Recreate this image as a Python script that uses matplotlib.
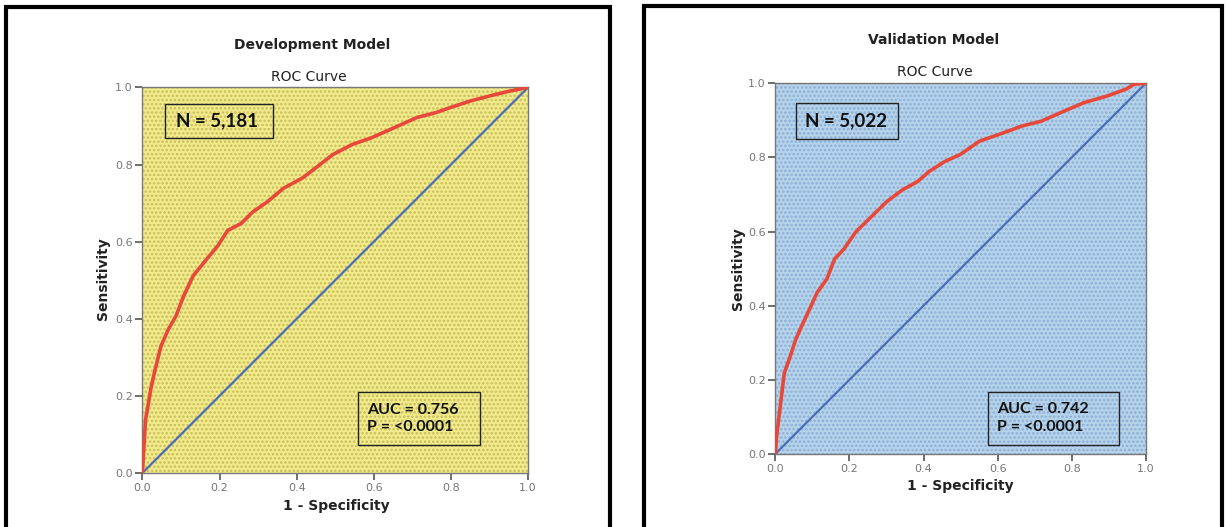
import matplotlib
matplotlib.use("Agg")
import matplotlib.pyplot as plt
from matplotlib.patches import Rectangle

# ROC curve points (1 - specificity, sensitivity)
dev_fpr = [0.0, 0.008, 0.023, 0.033, 0.048, 0.067, 0.087, 0.107, 0.132, 0.167,
           0.196, 0.221, 0.256, 0.286, 0.325, 0.365, 0.415, 0.454, 0.494, 0.544,
           0.593, 0.663, 0.712, 0.762, 0.802, 0.851, 0.901, 0.950, 1.0]
dev_tpr = [0.0, 0.137, 0.224, 0.268, 0.329, 0.372, 0.407, 0.459, 0.512, 0.555,
           0.590, 0.629, 0.647, 0.677, 0.704, 0.738, 0.765, 0.795, 0.826, 0.852,
           0.869, 0.900, 0.922, 0.935, 0.949, 0.965, 0.978, 0.990, 1.0]

val_fpr = [0.0, 0.003, 0.014, 0.024, 0.040, 0.055, 0.071, 0.092, 0.113, 0.139,
           0.160, 0.186, 0.217, 0.259, 0.301, 0.342, 0.384, 0.415, 0.457, 0.499,
           0.551, 0.603, 0.666, 0.718, 0.770, 0.833, 0.896, 0.948, 0.969, 1.0]
val_tpr = [0.0, 0.045, 0.136, 0.218, 0.263, 0.309, 0.345, 0.390, 0.436, 0.472,
           0.526, 0.554, 0.599, 0.640, 0.681, 0.712, 0.735, 0.762, 0.789, 0.808,
           0.844, 0.862, 0.885, 0.898, 0.921, 0.948, 0.966, 0.985, 0.998, 1.0]

titles = ["Development Model", "Validation Model"]
n_labels = ["N = 5,181", "N = 5,022"]
auc_labels = ["AUC = 0.756\nP = <0.0001", "AUC = 0.742\nP = <0.0001"]
ticks = [0.0, 0.2, 0.4, 0.6, 0.8, 1.0]

W, H = 1226, 527
fig = plt.figure(figsize=(W / 100, H / 100), dpi=100)


def fx(px):
    return px / W


def fy(py):
    return 1 - py / H


# panel layout in pixels
panels = [
    dict(ax=(142.4, 87.4, 528.1, 473.0), frame=(6, 7, 610, 560),
         title=(312, 45), roc=(309, 77), ylab=(103, 279), xlab=(336, 506),
         face="#F2EB8C", dots="#C8BC5A",
         nbox=(0.058, 0.868, 0.338, 0.958), abox=(0.558, 0.072, 0.876, 0.211),
         pad=(0.029, 0.025), fpr=dev_fpr, tpr=dev_tpr),
    dict(ax=(775.4, 83.4, 1145.7, 453.8), frame=(644, 6, 1222, 560),
         title=(934, 40), roc=(935, 72), ylab=(738, 269), xlab=(960, 486),
         face="#B6D3EC", dots="#8BAED3",
         nbox=(0.055, 0.851, 0.332, 0.947), abox=(0.575, 0.025, 0.929, 0.168),
         pad=(0.025, 0.023), fpr=val_fpr, tpr=val_tpr),
]

plt.rcParams["hatch.linewidth"] = 1.2
box_font = ["Lato", "DejaVu Sans"]

for i, p in enumerate(panels):
    x0, y0, x1, y1 = p["ax"]
    ax = fig.add_axes([fx(x0), fy(y1), fx(x1 - x0), (y1 - y0) / H])
    ax.set_facecolor(p["face"])
    ax.add_patch(Rectangle((0, 0), 1, 1, facecolor="none", edgecolor=p["dots"],
                           hatch="....", linewidth=0, zorder=0))
    ax.plot([0, 1], [0, 1], color="#4B6CB7", lw=1.6, zorder=2)
    ax.plot(p["fpr"], p["tpr"], color="#E8483A", lw=2.6, zorder=3)
    ax.set_xlim(0, 1)
    ax.set_ylim(0, 1)
    ax.set_xticks(ticks)
    ax.set_yticks(ticks)
    ax.set_xticklabels([f"{t:.1f}" for t in ticks])
    ax.set_yticklabels([f"{t:.1f}" for t in ticks])
    ax.tick_params(length=5, width=1.2, color="#555555", labelcolor="#777777",
                   labelsize=8, pad=2)
    for s in ax.spines.values():
        s.set_color("#777777")
        s.set_linewidth(1.0)

    # annotation boxes
    bx0, by0, bx1, by1 = p["nbox"]
    ax.add_patch(Rectangle((bx0, by0), bx1 - bx0, by1 - by0, facecolor="none",
                           edgecolor="#222222", lw=1.0, zorder=4))
    ax.text(bx0 + p["pad"][0], (by0 + by1) / 2, n_labels[i], fontsize=13.5,
            family=box_font, fontweight="bold", va="center", ha="left",
            color="#111111", zorder=5)
    bx0, by0, bx1, by1 = p["abox"]
    ax.add_patch(Rectangle((bx0, by0), bx1 - bx0, by1 - by0, facecolor="none",
                           edgecolor="#222222", lw=1.0, zorder=4))
    ax.text(bx0 + p["pad"][1], (by0 + by1) / 2, auc_labels[i], fontsize=11.5,
            family=box_font, fontweight="bold", va="center", ha="left",
            color="#111111", linespacing=1.3, zorder=5)

    # titles and axis labels
    fig.text(fx(p["title"][0]), fy(p["title"][1]), titles[i], fontsize=10,
             fontweight="bold", ha="center", va="center", color="#222222")
    fig.text(fx(p["roc"][0]), fy(p["roc"][1]), "ROC Curve", fontsize=10,
             ha="center", va="center", color="#222222")
    fig.text(fx(p["ylab"][0]), fy(p["ylab"][1]), "Sensitivity", fontsize=10,
             fontweight="bold", rotation=90, ha="center", va="center",
             color="#222222")
    fig.text(fx(p["xlab"][0]), fy(p["xlab"][1]), "1 - Specificity", fontsize=10,
             fontweight="bold", ha="center", va="center", color="#222222")

    # black panel frame
    l, t, r, b = p["frame"]
    fig.add_artist(Rectangle((fx(l), fy(b)), fx(r - l), (b - t) / H,
                             transform=fig.transFigure, facecolor="none",
                             edgecolor="black", lw=3.0, clip_on=False))

fig.savefig("out.png", dpi=100)
